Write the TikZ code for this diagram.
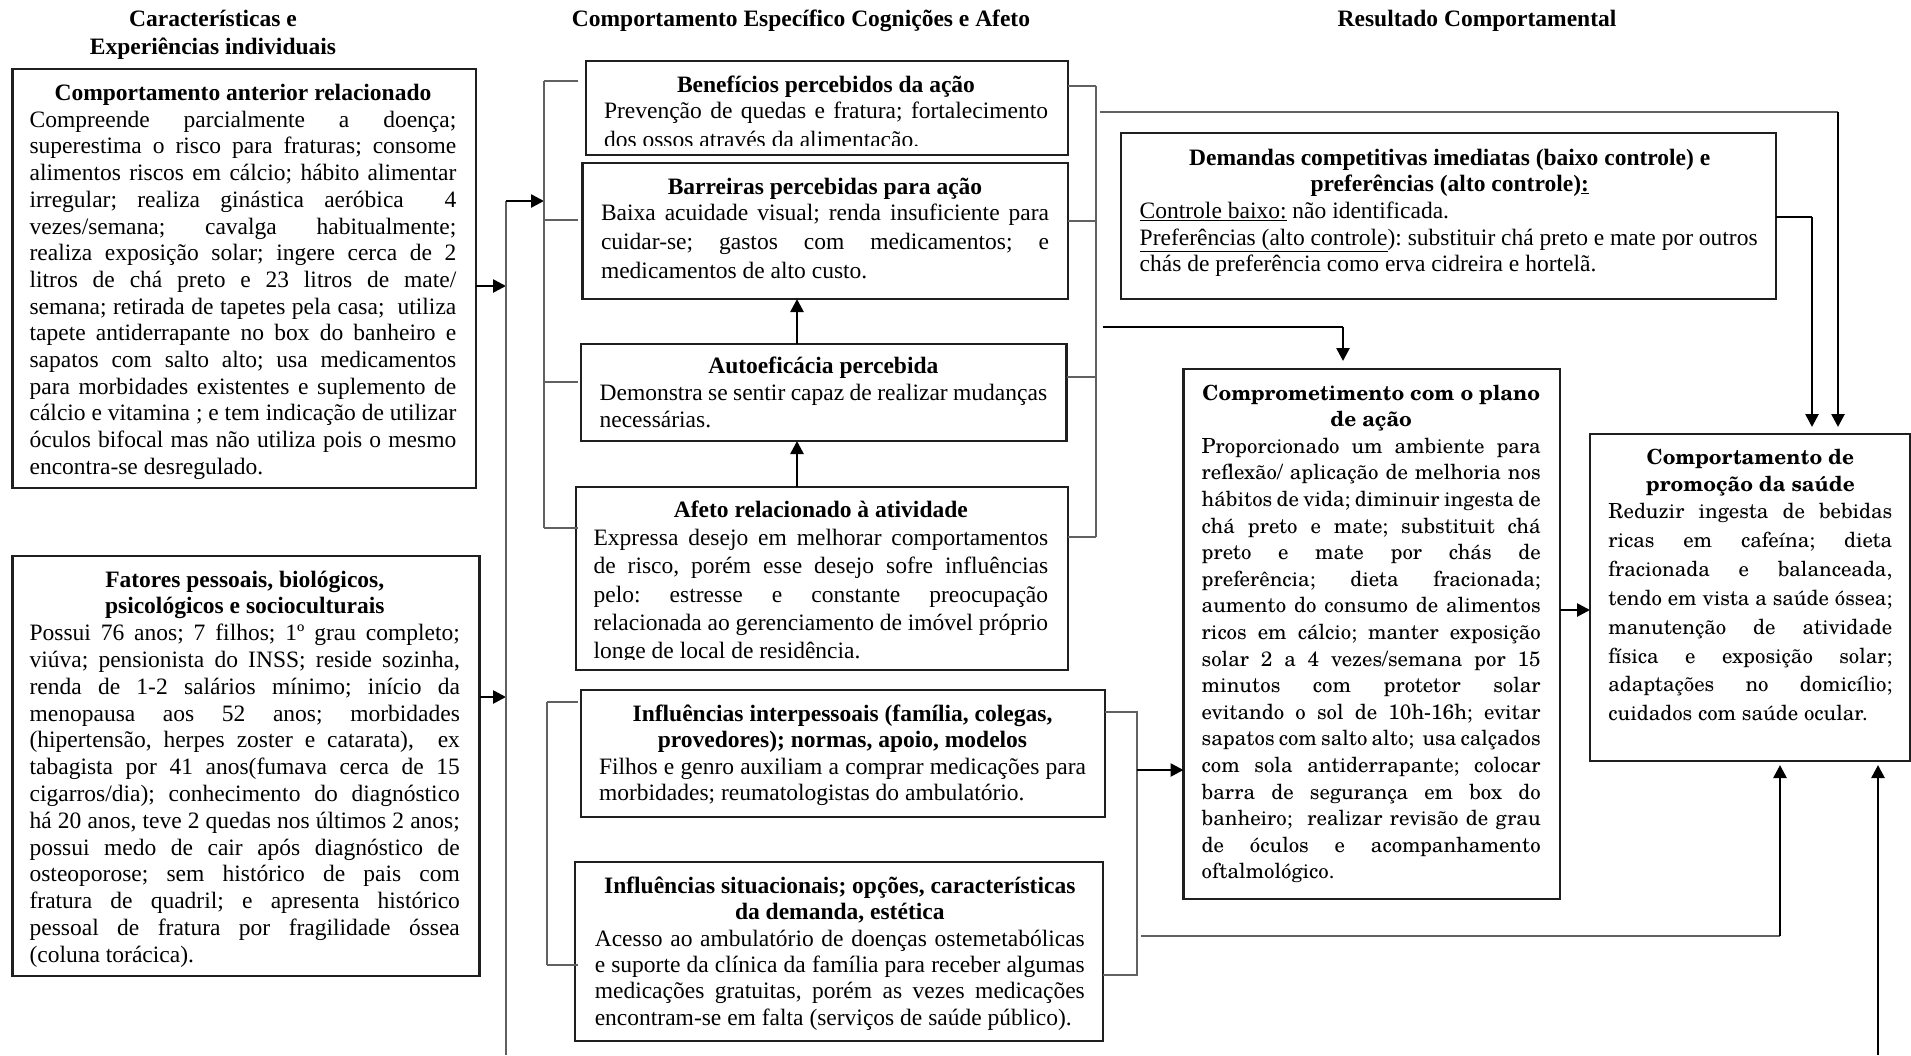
\documentclass[tikz,border=0pt]{standalone}
\usepackage{fontspec}
\setmainfont{Liberation Serif}
\newfontfamily\schola{texgyreschola}[Extension=.otf,UprightFont=*-regular,BoldFont=*-bold]
\usetikzlibrary{arrows.meta}

% size and leading of a text block
\newcommand\tms[2]{\fontsize{#1}{#2}\selectfont}
% centred bold heading of a box (the rule fixes the height of its first line)
\newcommand\boxtitle[1]{{\centering\bfseries\rule{0pt}{22pt}#1\par}}
% a full, justified line
\newcommand\jline[1]{\par\noindent\hbox to\hsize{#1}\par}
% a line at its natural width
\newcommand\lastl[1]{\par\noindent#1\par}

\begin{document}
\frenchspacing
\begin{tikzpicture}[x=1pt,y=-1pt,
  box/.style={draw=black!88, line width=2.1pt, inner sep=0pt, outer sep=0pt,
    anchor=north west, rectangle},
  txt/.style={inner sep=0pt, outer sep=0pt, anchor=north west, align=justify,
    execute at begin node={\lineskiplimit=-100pt\relax}},
  hdr/.style={inner sep=0pt, outer sep=0pt, anchor=north, align=justify, text width=#1,
    execute at begin node={\lineskiplimit=-100pt\relax}},
  brk/.style={draw=black!62, line width=1.6pt},
  arr/.style={draw=black, line width=2.6pt, -{Triangle[length=13pt,width=13pt]}},
]
\useasboundingbox (0,0) rectangle (1911,1055);

% ---------- column headings ----------
\node[hdr=340pt] (h1) at (213,4.7) {\tms{23.5}{27.7}\boxtitle{Características e\\Experiências individuais}};
\node[hdr=600pt] (h2) at (801,4) {\tms{23.5}{27}\boxtitle{Comportamento Específico Cognições e Afeto}};
\node[hdr=400pt] (h3) at (1477,4) {\tms{23.5}{27}\boxtitle{Resultado Comportamental}};

% ---------- boxes ----------
\node[box, minimum width=463.5pt, minimum height=419pt] (b1) at (12.5,69) {};
\node[box, minimum width=467pt, minimum height=420pt] (b2) at (12.5,556) {};
\node[box, minimum width=482pt, minimum height=94pt] (ben) at (586,61) {};
\node[box, minimum width=485.5pt, minimum height=136pt] (bar) at (582.5,163) {};
\node[box, minimum width=485.8pt, minimum height=97pt] (aut) at (580.7,344) {};
\node[box, minimum width=492pt, minimum height=183pt] (afe) at (576,487) {};
\node[box, minimum width=524.3pt, minimum height=127pt] (inp) at (580.7,690) {};
\node[box, minimum width=528pt, minimum height=179pt] (sit) at (575,862) {};
\node[box, minimum width=655pt, minimum height=166pt] (dem) at (1121,133) {};
\node[box, minimum width=376.5pt, minimum height=530pt] (com) at (1183.5,369) {};
\node[box, minimum width=320pt, minimum height=327pt] (pro) at (1590,434) {};

% ---------- box texts ----------
\node[txt, text width=426.7pt] (b1x) at (29.6,78.5) {\tms{23.5}{26.7}%
\boxtitle{Comportamento anterior relacionado}%
\jline{Compreende parcialmente a doença;}%
\jline{superestima o risco para fraturas; consome}%
\jline{alimentos riscos em cálcio; hábito alimentar}%
\jline{irregular; realiza ginástica aeróbica\ \ 4}%
\jline{vezes/semana; cavalga habitualmente;}%
\jline{realiza exposição solar; ingere cerca de 2}%
\jline{litros de chá preto e 23 litros de mate/}%
\jline{semana; retirada de tapetes pela casa;\ \ utiliza}%
\jline{tapete antiderrapante no box do banheiro e}%
\jline{sapatos com salto alto; usa medicamentos}%
\jline{para morbidades existentes e suplemento de}%
\jline{cálcio e vitamina ; e tem indicação de utilizar}%
\jline{óculos bifocal mas não utiliza pois o mesmo}%
\lastl{encontra-se desregulado.}};

\node[txt, text width=430.3pt] (b2x) at (29.6,565) {\tms{23.5}{26.8}%
\boxtitle{Fatores pessoais, biológicos,\\psicológicos e socioculturais}%
\jline{Possui 76 anos; 7 filhos; 1º grau completo;}%
\jline{viúva; pensionista do INSS; reside sozinha,}%
\jline{renda de 1-2 salários mínimo; início da}%
\jline{menopausa aos 52 anos; morbidades}%
\jline{(hipertensão, herpes zoster e catarata),\ \ ex}%
\jline{tabagista por 41 anos(fumava cerca de 15}%
\jline{cigarros/dia); conhecimento do diagnóstico}%
\jline{há 20 anos, teve 2 quedas nos últimos 2 anos;}%
\jline{possui medo de cair após diagnóstico de}%
\jline{osteoporose; sem histórico de pais com}%
\jline{fratura de quadril; e apresenta histórico}%
\jline{pessoal de fratura por fragilidade óssea}%
\lastl{(coluna torácica).}};

\begin{scope}
\clip (ben.north west) rectangle (ben.east |- 0,145.3);
\node[txt, text width=444pt] (benx) at (604,70) {\tms{23.5}{26.5}%
\boxtitle{Benefícios percebidos da ação}%
\tms{23.5}{28.6}\vskip-2.1pt
\jline{Prevenção de quedas e fratura; fortalecimento}%
\lastl{dos ossos através da alimentação.}};
\end{scope}

\node[txt, text width=448pt] (barx) at (601,172) {\tms{23.5}{26.7}%
\boxtitle{Barreiras percebidas para ação}\tms{23.5}{28.8}\vskip-2.1pt
\jline{Baixa acuidade visual; renda insuficiente para}%
\jline{cuidar-se; gastos com medicamentos; e}%
\lastl{medicamentos de alto custo.}};

\node[txt, text width=447.5pt] (autx) at (599.6,351) {\tms{23.5}{27.2}%
\boxtitle{Autoeficácia percebida}%
\jline{Demonstra se sentir capaz de realizar mudanças}%
\lastl{necessárias.}};

\begin{scope}
\clip (afe.north west) rectangle (afe.east |- 0,659.5);
\node[txt, text width=454.5pt] (afex) at (593.6,495.5) {\tms{23.5}{28.2}%
\boxtitle{Afeto relacionado à atividade}%
\jline{Expressa desejo em melhorar comportamentos}%
\jline{de risco, porém esse desejo sofre influências}%
\jline{pelo: estresse e constante preocupação}%
\jline{relacionada ao gerenciamento de imóvel próprio}%
\lastl{longe de local de residência.}};
\end{scope}

\node[txt, text width=487pt] (inpx) at (599,699.5) {\tms{23.5}{26.3}%
\boxtitle{Influências interpessoais (família, colegas,\\provedores); normas, apoio, modelos}%
\jline{Filhos e genro auxiliam a comprar medicações para}%
\lastl{morbidades; reumatologistas do ambulatório.}};

\node[txt, text width=490pt] (sitx) at (594.8,871.5) {\tms{23.5}{26.3}%
\boxtitle{Influências situacionais; opções, características\\da demanda, estética}%
\jline{Acesso ao ambulatório de doenças ostemetabólicas}%
\jline{e suporte da clínica da família para receber algumas}%
\jline{medicações gratuitas, porém as vezes medicações}%
\lastl{encontram-se em falta (serviços de saúde público).}};

\node[txt, text width=620pt] (demx) at (1139.7,143) {\tms{23.5}{26.7}%
\boxtitle{Demandas competitivas imediatas (baixo controle) e\\preferências (alto controle)\underline{:}}%
\lastl{\underline{Controle baixo:} não identificada.}%
\lastl{\underline{Preferências (alto controle}): substituir chá preto e mate por outros}%
\lastl{chás de preferência como erva cidreira e hortelã.}};

\node[txt, text width=339pt] (comx) at (1201.7,378) {\schola\tms{20.8}{26}%
\boxtitle{Comprometimento com o plano\\de ação}\tms{20.8}{26.6}\vskip0.6pt
\jline{Proporcionado um ambiente para}%
\jline{reflexão/ aplicação de melhoria nos}%
\jline{hábitos de vida; diminuir ingesta de}%
\jline{chá preto e mate; substituit chá}%
\jline{preto e mate por chás de}%
\jline{preferência; dieta fracionada;}%
\jline{aumento do consumo de alimentos}%
\jline{ricos em cálcio; manter exposição}%
\jline{solar 2 a 4 vezes/semana por 15}%
\jline{minutos com protetor solar}%
\jline{evitando o sol de 10h-16h; evitar}%
\jline{sapatos com salto alto;\ \ usa calçados}%
\jline{com sola antiderrapante; colocar}%
\jline{barra de segurança em box do}%
\jline{banheiro;\ \ realizar revisão de grau}%
\jline{de óculos e acompanhamento}%
\lastl{oftalmológico.}};

\node[txt, text width=284pt] (prox) at (1608.3,442.5) {\schola\tms{20.8}{27}%
\boxtitle{Comportamento de\\promoção da saúde}\tms{20.8}{28.9}\vskip-1.9pt
\jline{Reduzir ingesta de bebidas}%
\jline{ricas em cafeína; dieta}%
\jline{fracionada e balanceada,}%
\jline{tendo em vista a saúde óssea;}%
\jline{manutenção de atividade}%
\jline{física e exposição solar;}%
\jline{adaptações no domicílio;}%
\lastl{cuidados com saúde ocular.}};

% ---------- connectors ----------
\coordinate (busTop) at (506,201);
\coordinate (busBot) at (506,1055);
\coordinate (in1) at (506,286);
\coordinate (in2) at (506,697);
\coordinate (lbA) at (544,81);
\coordinate (lbB) at (544,528);
\coordinate (lcA) at (547,702);
\coordinate (lcB) at (547,965);
\coordinate (rbA) at (1096,86);
\coordinate (rbB) at (1096,537);
\coordinate (rcA) at (1137,712);
\coordinate (rcM) at (1137,770);
\coordinate (rcB) at (1137,975);
\coordinate (ax) at (797,0);
\coordinate (turnP) at (1838,112);
\coordinate (turnC) at (1343,327);
\coordinate (turnD) at (1812,217);
\coordinate (turnS) at (1780,936);
\coordinate (pm) at (1575,610);
\coordinate (botR) at (1878,1055);

% individual characteristics feed the cognition group
\draw[arr] (b1.east |- in1) -- (in1);
\draw[arr] (b2.east |- in2) -- (in2);
\draw[brk] (busTop) -- (busBot);
\draw[arr] (busTop) -- (busTop -| lbA);

% left bracket of the cognition boxes
\draw[brk] (lbA) -- (lbB);
\foreach \y in {81,220,382,528} \draw[brk] (544,\y) -- (578,\y);
% left bracket of the influence boxes
\draw[brk] (lcA) -- (lcB);
\foreach \y in {702,965} \draw[brk] (547,\y) -- (578,\y);

% links inside the cognition column
\draw[arr] (aut.north -| ax) -- (bar.south -| ax);
\draw[arr] (afe.north -| ax) -- (aut.south -| ax);

% right bracket of the cognition boxes
\foreach \n/\y in {ben/86,bar/221,aut/377,afe/537} \draw[brk] (\n.east |- 0,\y) -- (1096,\y);
\draw[brk] (rbA) -- (rbB);
\draw[brk] (1100,112) -- (turnP);
\draw[arr, shorten >=7pt] (turnP) -- (turnP |- pro.north);
\draw[draw=black, line width=1.6pt] (1103,327) -- (turnC);
\draw[arr, shorten >=8pt] (turnC) -- (turnC |- com.north);

% competing demands
\draw[draw=black, line width=1.6pt] (dem.east |- turnD) -- (turnD);
\draw[arr, shorten >=7pt] (turnD) -- (turnD |- pro.north);

% right bracket of the influence boxes
\draw[brk] (inp.east |- rcA) -- (rcA) -- (rcB) -- (sit.east |- rcB);
\draw[arr] (rcM) -- (rcM -| com.west);
\draw[brk] (1141,936) -- (turnS);
\draw[arr, shorten >=4pt] (turnS) -- (turnS |- pro.south);

% commitment to health-promoting behaviour
\draw[arr] (com.east |- pm) -- (pm -| pro.west);
\draw[arr, shorten >=4pt] (botR) -- (botR |- pro.south);
\end{tikzpicture}
\end{document}
